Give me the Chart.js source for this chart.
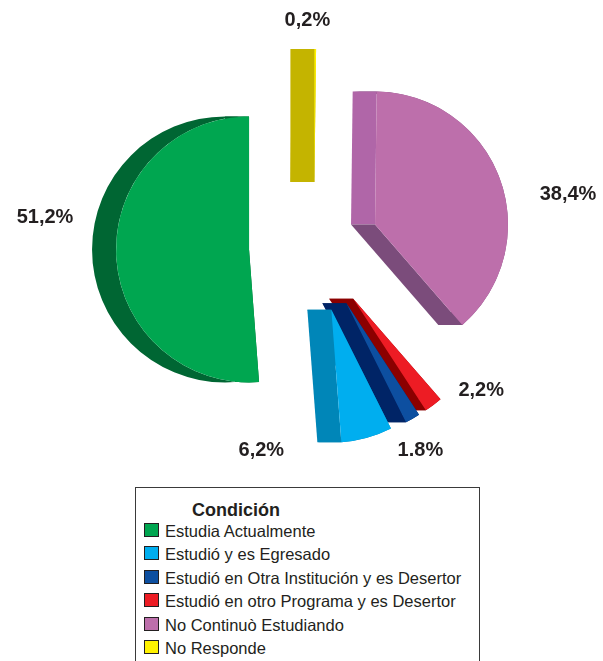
<!DOCTYPE html>
<html>
<head>
<meta charset="utf-8">
<script src="https://cdn.jsdelivr.net/npm/chart.js@4/dist/chart.umd.min.js"></script>
<style>
  body { margin: 0; background: #fff; width: 603px; height: 661px; overflow: hidden; position: relative;
         font-family: "Liberation Sans", Arial, sans-serif; color: #231f20; }
  #pie { position: absolute; left: 0; top: 0; }
  #legendBox { position: absolute; left: 135px; top: 487px; width: 343px; height: 200px;
               border: 1.5px solid #3a3a3a; }
  .legTitle { position: absolute; left: 192px; top: 499px; font-size: 18px; line-height: 22px; font-weight: bold; }
  .legRow { position: absolute; left: 144px; height: 20px; line-height: 20px; font-size: 16.5px; white-space: nowrap; }
  .legRow span.sw { position: absolute; left: 0; top: 2px; width: 13px; height: 12px; border: 1.5px solid #231f20; }
  .legRow span.tx { position: absolute; left: 21px; top: 0; }
</style>
</head>
<body>
<canvas id="pie" width="603" height="480"></canvas>
<div id="legendBox"></div>
<div class="legTitle" id="legTitle"></div>
<div id="legendRows"></div>
<script>
// data, in legend order
var categories = ['Estudia Actualmente', 'Estudió y es Egresado', 'Estudió en Otra Institución y es Desertor',
                  'Estudió en otro Programa y es Desertor', 'No Continuò Estudiando', 'No Responde'];
var percentages = [51.2, 6.2, 1.8, 2.2, 38.4, 0.2];
var valueLabels = ['51,2%', '6,2%', '1.8%', '2,2%', '38,4%', '0,2%'];
var legendTitle = 'Condición';

// styles
var faceColors = ['#00a650', '#00aeef', '#0d4fa0', '#ed1c24', '#bd6fab', '#fff200'];
var rimColors = ['#006633', '#0086b8', '#002466', '#8b0000', '#7b4c7b', '#c4b400'];
var startEdgeColors = ['#006633', '#0086b8', '#002466', '#8b0000', '#b066a8', '#c4b400'];
var labelOffsets = [[-204, -26], [-70, 146], [74, 153], [128, 97], [193, -25], [-7, -156]];
var EXPLODE = 65;
var DEPTH = 24;

// slices run counter-clockwise in the original, so feed them reversed
var order = percentages.map(function (_, i) { return i; }).reverse();

// pull every slice out along its bisector
var explodePlugin = {
    id: 'explode',
    afterDatasetUpdate: function (chart, args) {
        args.meta.data.forEach(function (arc) {
            var mid = (arc.startAngle + arc.endAngle) / 2;
            arc.x += Math.cos(mid) * EXPLODE;
            arc.y += Math.sin(mid) * EXPLODE;
        });
    }
};

// fake 3d thickness: side faces pushed to the left
var depthPlugin = {
    id: 'depth',
    beforeDatasetsDraw: function (chart) {
        var ctx = chart.ctx;
        chart.getDatasetMeta(0).data.forEach(function (arc, k) {
            var i = order[k];
            var r = arc.outerRadius;
            ctx.save();
            ctx.beginPath();
            ctx.arc(arc.x, arc.y, r, arc.startAngle, arc.endAngle);
            ctx.arc(arc.x - DEPTH, arc.y, r, arc.endAngle, arc.startAngle, true);
            ctx.closePath();
            ctx.fillStyle = rimColors[i];
            ctx.fill();
            [[arc.startAngle, startEdgeColors[i]], [arc.endAngle, rimColors[i]]].forEach(function (e) {
                var ex = arc.x + Math.cos(e[0]) * r;
                var ey = arc.y + Math.sin(e[0]) * r;
                ctx.beginPath();
                ctx.moveTo(arc.x, arc.y);
                ctx.lineTo(ex, ey);
                ctx.lineTo(ex - DEPTH, ey);
                ctx.lineTo(arc.x - DEPTH, arc.y);
                ctx.closePath();
                ctx.fillStyle = e[1];
                ctx.fill();
            });
            ctx.restore();
        });
    }
};

// percentage labels next to each slice
var labelPlugin = {
    id: 'pctLabels',
    afterDatasetsDraw: function (chart) {
        var ctx = chart.ctx;
        ctx.save();
        ctx.font = 'bold 20px "Liberation Sans", Arial, sans-serif';
        ctx.fillStyle = '#231f20';
        ctx.textAlign = 'center';
        ctx.textBaseline = 'alphabetic';
        chart.getDatasetMeta(0).data.forEach(function (arc, k) {
            var i = order[k];
            ctx.fillText(valueLabels[i], arc.x + labelOffsets[i][0], arc.y + labelOffsets[i][1]);
        });
        ctx.restore();
    }
};

var ctx = document.getElementById('pie').getContext('2d');
var chart = new Chart(ctx, {
    type: 'pie',
    data: {
        labels: order.map(function (i) { return categories[i]; }),
        datasets: [{
            data: order.map(function (i) { return percentages[i]; }),
            backgroundColor: order.map(function (i) { return faceColors[i]; }),
            borderWidth: 0
        }]
    },
    options: {
        responsive: false,
        animation: false,
        radius: 133,
        layout: { padding: { left: 25, top: 14 } },
        plugins: {
            legend: { display: false },
            tooltip: { enabled: false }
        }
    },
    plugins: [explodePlugin, depthPlugin, labelPlugin]
});

// legend box under the chart
document.getElementById('legTitle').textContent = legendTitle;
var rows = document.getElementById('legendRows');
categories.forEach(function (name, i) {
    var row = document.createElement('div');
    row.className = 'legRow';
    row.style.top = (521 + i * 23.4) + 'px';
    var sw = document.createElement('span');
    sw.className = 'sw';
    sw.style.background = faceColors[i];
    var tx = document.createElement('span');
    tx.className = 'tx';
    tx.textContent = name;
    row.appendChild(sw);
    row.appendChild(tx);
    rows.appendChild(row);
});
</script>
</body>
</html>
